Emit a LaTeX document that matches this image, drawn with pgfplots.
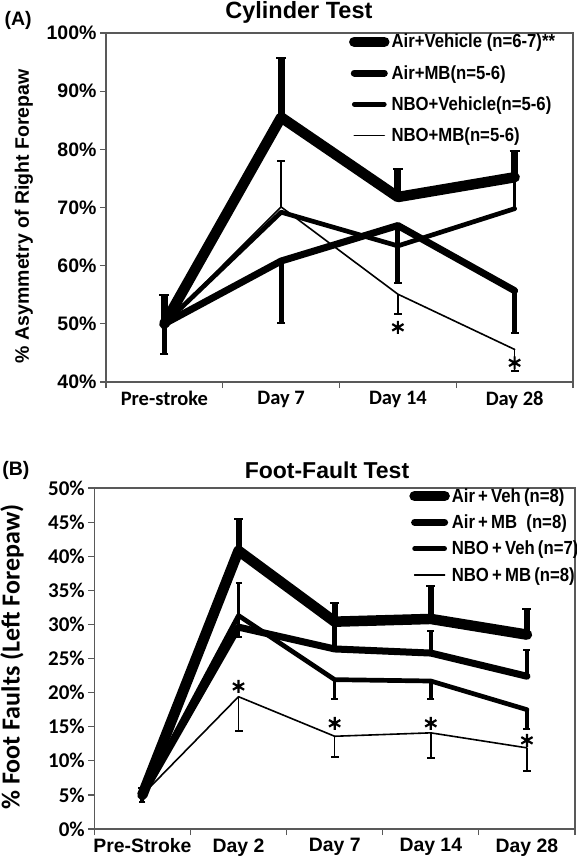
\documentclass[border=0pt]{standalone}
\usepackage{pgfplots}
\pgfplotsset{compat=1.18}
\usepackage{fontspec}
\setmainfont{Liberation Sans}
\newfontfamily\calb{Carlito}
\newfontfamily\narrow{Liberation Sans}[FakeStretch=0.88]
\newcommand\fsz[1]{\fontsize{#1bp}{#1bp}\selectfont}

\pgfplotsset{
  myax/.style={
    scale only axis, clip=false,
    axis line style={draw=black!65, line width=1.2bp},
    tick style={draw=black!65, line width=1.2bp},
    tick align=outside, major tick length=6bp,
    xtick pos=left, ytick pos=left,
    legend cell align=left,
  },
  s1/.style={black, line width=10.5bp, line join=round, line cap=round},
  s2/.style={black, line width=7bp, line join=round, line cap=round},
  s3/.style={black, line width=4.7bp, line join=round, line cap=round},
  s4/.style={black, line width=1.6bp, line join=round, line cap=round},
  eb/.style n args={3}{draw=none, mark=none, forget plot,
    error bars/.cd, y dir=#1, y explicit,
    error bar style={draw=black, line width=#2},
    error mark options={draw=black, rotate=90, mark size=#3, line width=2bp}},
  legimg/.style={legend image code/.code={\draw[##1] (0bp,0bp) -- (30bp,0bp);}},
}

\begin{document}
\begin{tikzpicture}
\useasboundingbox (0bp,0bp) rectangle (577bp,-862bp);

% ---------------- Panel A ----------------
\begin{axis}[myax, legimg,
  at={(106bp,-382bp)}, anchor=south west, width=467bp, height=349bp,
  xmin=-0.5, xmax=3.5, ymin=40, ymax=100,
  xtick={-0.5,0.5,1.5,2.5,3.5},
  xticklabels={Pre-stroke,Day 7,Day 14,Day 28,{}},
  xticklabel style={xshift=58.4bp, font=\calb\bfseries\fsz{20.5}},
  ytick={40,50,60,70,80,90,100},
  yticklabels={40\%,50\%,60\%,70\%,80\%,90\%,100\%},
  yticklabel style={font=\bfseries\fsz{19.5}},
  ylabel={\% Asymmetry of Right Forepaw},
  ylabel style={at={(axis description cs:-0.176,0.475)}, anchor=center, rotate=0, font=\bfseries\fsz{19.5}},
  legend style={at={(axis description cs:0.52,1.003)}, anchor=north west, draw=none, fill=none,
    inner sep=0pt, row sep=12bp, font=\narrow\bfseries\fsz{19}},
]
\addplot[s1] coordinates {(0,50) (1,85.5) (2,71.8) (3,75.2)};
\addlegendentry{Air+Vehicle (n=6-7)**}
\addplot[s2] coordinates {(0,50) (1,60.8) (2,66.9) (3,55.7)};
\addlegendentry{Air+MB(n=5-6)}
\addplot[s3] coordinates {(0,50) (1,69.2) (2,63.4) (3,69.8)};
\addlegendentry{NBO+Vehicle(n=5-6)}
\addplot[s4] coordinates {(0,50) (1,70.1) (2,55.1) (3,45.6)};
\addlegendentry{NBO+MB(n=5-6)}
% error bars
\addplot[eb={plus}{7bp}{5bp}] coordinates {(0,50) +- (0,5) (1,85.5) +- (0,10.2) (2,71.8) +- (0,4.9) (3,75.2) +- (0,4.5)};
\addplot[eb={minus}{5bp}{4bp}] coordinates {(0,50) +- (0,5.2) (1,60.8) +- (0,10.6) (2,66.9) +- (0,9.8) (3,55.7) +- (0,7.2)};
\addplot[eb={plus}{3.5bp}{3bp}] coordinates {(3,69.8) +- (0,5.5)};
\addplot[eb={plus}{1.6bp}{4bp}] coordinates {(1,70.1) +- (0,7.9)};
\addplot[eb={minus}{1.6bp}{4bp}] coordinates {(2,55.1) +- (0,3.4) (3,45.6) +- (0,3.7)};
% significance
\addplot[only marks, mark=asterisk, mark size=6.5bp, line width=2.2bp, black, forget plot] coordinates {(2,49.4) (3,43.3)};
\node[font=\bfseries\fsz{23.5}] at (axis description cs:0.413,1.06) {Cylinder Test};
\node[font=\bfseries\fsz{19.5}] at (axis description cs:-0.188,1.037) {(A)};
\end{axis}

% ---------------- Panel B ----------------
\begin{axis}[myax, legimg,
  at={(94.3bp,-829bp)}, anchor=south west, width=480.7bp, height=341bp,
  xmin=-0.5, xmax=4.5, ymin=0, ymax=50,
  xtick={-0.5,0.5,1.5,2.5,3.5,4.5},
  xticklabels={Pre-Stroke,Day 2,Day 7,Day 14,Day 28,{}},
  xticklabel style={xshift=48.1bp, font=\bfseries\fsz{19.4}},
  ytick={0,5,...,50},
  yticklabels={0\%,5\%,10\%,15\%,20\%,25\%,30\%,35\%,40\%,45\%,50\%},
  yticklabel style={font=\calb\bfseries\fsz{21}},
  ylabel={\% Foot Faults (Left Forepaw)},
  ylabel style={at={(axis description cs:-0.171,0.504)}, anchor=center, font=\calb\bfseries\fsz{26}},
  legend style={at={(axis description cs:0.655,1.005)}, anchor=north west, draw=none, fill=none,
    inner sep=0pt, row sep=7bp, font=\narrow\bfseries\fsz{19}},
]
\addplot[s1] coordinates {(0,5) (1,40.8) (2,30.4) (3,30.8) (4,28.5)};
\addlegendentry{Air\,+\,Veh\,(n=8)}
\addplot[s2] coordinates {(0,5) (1,29.6) (2,26.4) (3,25.8) (4,22.4)};
\addlegendentry{Air\,+\,MB\ \ (n=8)}
\addplot[s3] coordinates {(0,5) (1,31.3) (2,21.9) (3,21.7) (4,17.5)};
\addlegendentry{NBO\,+\,Veh\,(n=7)}
\addplot[s4] coordinates {(0,5) (1,19.4) (2,13.6) (3,14.1) (4,11.9)};
\addlegendentry{NBO\,+\,MB\,(n=8)}
% error bars
\addplot[eb={plus}{6bp}{4.5bp}] coordinates {(0,5) +- (0,1) (1,40.8) +- (0,4.6) (2,30.4) +- (0,2.8) (3,30.8) +- (0,4.8) (4,28.5) +- (0,3.8)};
\addplot[eb={minus}{4bp}{3bp}] coordinates {(0,5) +- (0,1)};
\addplot[eb={plus}{4.5bp}{3.5bp}] coordinates {(2,26.4) +- (0,4) (3,25.8) +- (0,3.3) (4,22.4) +- (0,3.9)};
\addplot[eb={plus}{3bp}{3bp}] coordinates {(1,31.3) +- (0,4.8)};
\addplot[eb={minus}{3.5bp}{3.5bp}] coordinates {(1,31.3) +- (0,3.1) (2,21.9) +- (0,2.8) (3,21.7) +- (0,2.6) (4,17.5) +- (0,2.8)};
\addplot[eb={minus}{1.6bp}{4bp}] coordinates {(1,19.4) +- (0,5.1) (2,13.6) +- (0,3.0) (3,14.1) +- (0,3.7) (4,11.9) +- (0,3.4)};
% significance
\addplot[only marks, mark=asterisk, mark size=6.5bp, line width=2.2bp, black, forget plot] coordinates {(1,20.9) (2,15.5) (3,15.5) (4,13.0)};
\node[font=\bfseries\fsz{23}] at (axis description cs:0.484,1.053) {Foot-Fault Test};
\node[font=\bfseries\fsz{19.5}] at (axis description cs:-0.163,1.05) {(B)};
\end{axis}
\end{tikzpicture}
\end{document}
